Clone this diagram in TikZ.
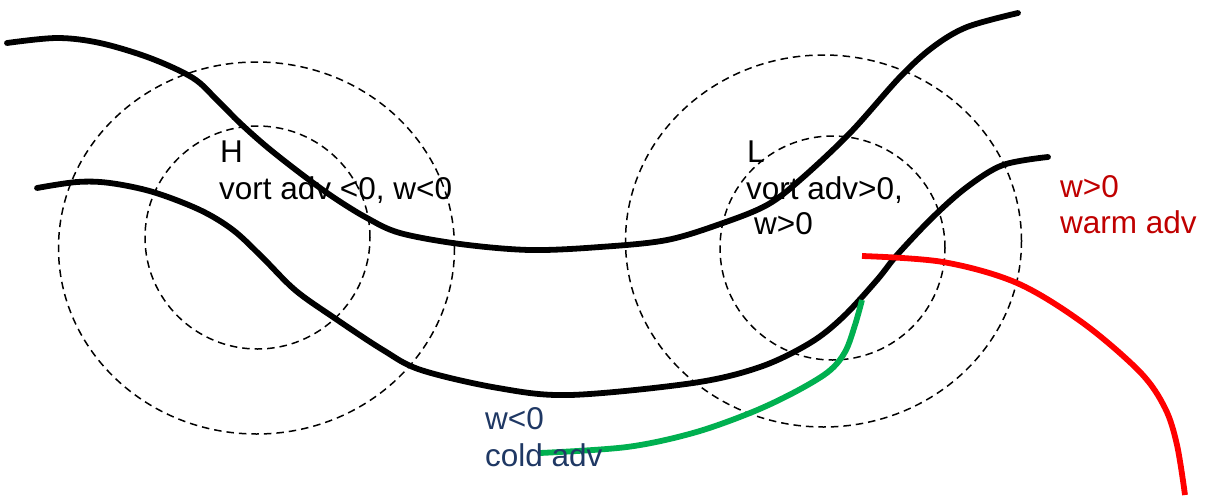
\documentclass[tikz,border=0pt]{standalone}
\usepackage{fontspec}
\setmainfont{Liberation Sans}
\begin{document}
\begin{tikzpicture}[x=1pt,y=-1pt,
  isobar/.style={line width=5.8pt,line cap=round,black},
  ring/.style={line width=1.5pt,dash pattern=on 7.5pt off 5pt,black},
  lbl/.style={anchor=base west,inner sep=0pt,font=\fontsize{31.5}{36}\selectfont},
  cold/.style={line width=5.8pt,color=coldgreen},
  warm/.style={line width=5.8pt,color=red}]
\definecolor{coldgreen}{HTML}{00B050}
\definecolor{warmtext}{HTML}{C00000}
\definecolor{coldtext}{HTML}{1F3864}
\useasboundingbox[fill=white] (0,0) rectangle (1208,499);
% dashed rings
\draw[ring] (256.5,248) ellipse [x radius=198pt, y radius=186pt];
\draw[ring] (257.5,237.5) ellipse [x radius=112.5pt, y radius=111.5pt];
\draw[ring] (823.5,241) ellipse [x radius=198pt, y radius=186pt];
\draw[ring] (832.5,248) ellipse [x radius=112.5pt, y radius=112pt];
% isobars
\draw[isobar] plot[smooth,tension=0.55] coordinates {(7,43) (57,38) (100,43) (150,58) (193,78) (217,100) (240,123) (267,147) (300,173) (333,197) (367,218) (400,233) (460,244) (530,250) (600,247) (667,240) (723,223) (767,205) (800,180) (850,133) (900,77) (933,47) (967,27) (1018,13)};
\draw[isobar] plot[smooth,tension=0.55] coordinates {(37,188) (77,182) (110,183) (153,192) (200,210) (233,230) (262,257) (295,290) (333,317) (383,350) (421,370) (498,388) (570,395) (693,383) (760,367) (810,343) (843,317) (877,280) (897,255) (933,217) (967,187) (1003,165) (1048,157)};
% advection lines
\draw[cold] plot[smooth,tension=0.55] coordinates {(862,300) (855,325) (845,352) (828,372) (793,393) (750,413) (693,433) (627,447) (540,453)};
\draw[warm] plot[smooth,tension=0.55] coordinates {(862,256) (943,262) (1017,283) (1083,323) (1140,372) (1165,408) (1177,445) (1185,495)};
% labels
\node[lbl] (h) at (220,162) {H};
\node[lbl] (hv) at (219,199) {vort adv <0, w<0};
\node[lbl] (l) at (747,162) {L};
\node[lbl] (lv) at (746,199) {vort adv>0,};
\node[lbl] (lw) at (754,234) {w>0};
\node[lbl,text=warmtext] (ww) at (1060,197) {w>0};
\node[lbl,text=warmtext] (wa) at (1060,233) {warm adv};
\node[lbl,text=coldtext] (cw) at (485,429) {w<0};
\node[lbl,text=coldtext] (ca) at (485,466) {cold adv};
\end{tikzpicture}
\end{document}
